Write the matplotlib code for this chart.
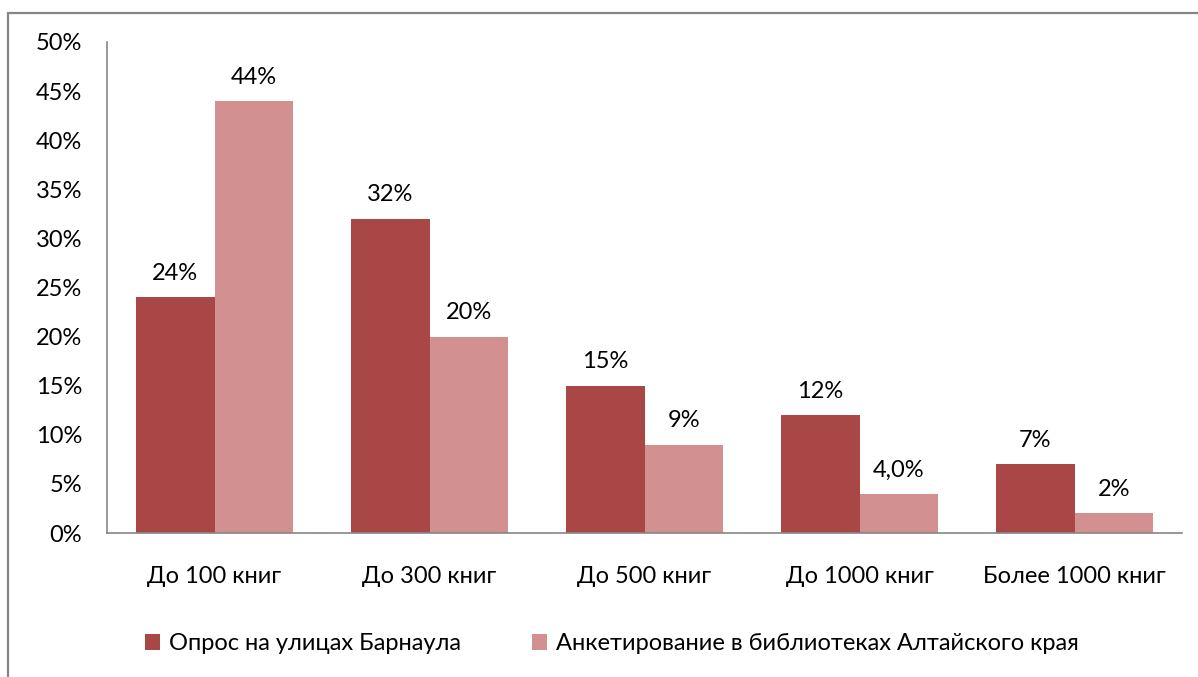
import matplotlib
matplotlib.use("Agg")
import matplotlib.pyplot as plt
import numpy as np
from matplotlib.patches import Rectangle

plt.rcParams['font.family'] = ['Lato', 'DejaVu Sans']

categories = ["До 100 книг", "До 300 книг", "До 500 книг", "До 1000 книг", "Более 1000 книг"]
series_names = ["Опрос на улицах Барнаула", "Анкетирование в библиотеках Алтайского края"]
street = [24, 32, 15, 12, 7]
library = [44, 20, 9, 4, 2]
street_labels = ["24%", "32%", "15%", "12%", "7%"]
library_labels = ["44%", "20%", "9%", "4,0%", "2%"]
yticks = [0, 5, 10, 15, 20, 25, 30, 35, 40, 45, 50]

dark = "#A84745"
light = "#D29190"
axis_gray = "#868686"
FS = 17

W, H = 1198, 677
fig = plt.figure(figsize=(W / 100, H / 100), dpi=100)

# outer chart frame
fig.patches.append(Rectangle((8 / W, -0.1), 1.2, 1 - 13 / H + 0.1, transform=fig.transFigure,
                             fill=False, edgecolor=axis_gray, linewidth=1.6, zorder=0))

ax = fig.add_axes([107 / W, 1 - 533 / H, (1182 - 107) / W, (533 - 42) / H])
x = np.arange(len(categories))
bw = 0.364
b1 = ax.bar(x - bw / 2, street, bw, color=dark, label=series_names[0], zorder=2)
b2 = ax.bar(x + bw / 2, library, bw, color=light, label=series_names[1], zorder=2)

for bars, labs in ((b1, street_labels), (b2, library_labels)):
    for rect, lab in zip(bars, labs):
        ax.annotate(lab, (rect.get_x() + rect.get_width() / 2, rect.get_height()),
                    xytext=(0, 12.5), textcoords="offset points",
                    ha="center", va="baseline", fontsize=FS, color="black")

ax.set_xlim(-0.5, len(categories) - 0.5)
ax.set_ylim(0, 50)
ax.set_yticks(yticks)
ax.set_yticklabels([f"{v}%" for v in yticks])
ax.set_xticks(x)
ax.set_xticklabels(categories)
ax.tick_params(axis="y", length=0, pad=18, labelsize=FS)
ax.tick_params(axis="x", length=0, pad=24, labelsize=FS)
for s in ("top", "right"):
    ax.spines[s].set_visible(False)
for s in ("left", "bottom"):
    ax.spines[s].set_color(axis_gray)
    ax.spines[s].set_linewidth(1.2)

fig.legend(handles=[b1, b2], labels=series_names, loc="center",
           bbox_to_anchor=(612 / W, 1 - 644 / H), ncol=2, frameon=False,
           fontsize=FS, handlelength=0.64, handleheight=0.64, handletextpad=0.38,
           columnspacing=3.0)

fig.savefig("out.png", dpi=100)
